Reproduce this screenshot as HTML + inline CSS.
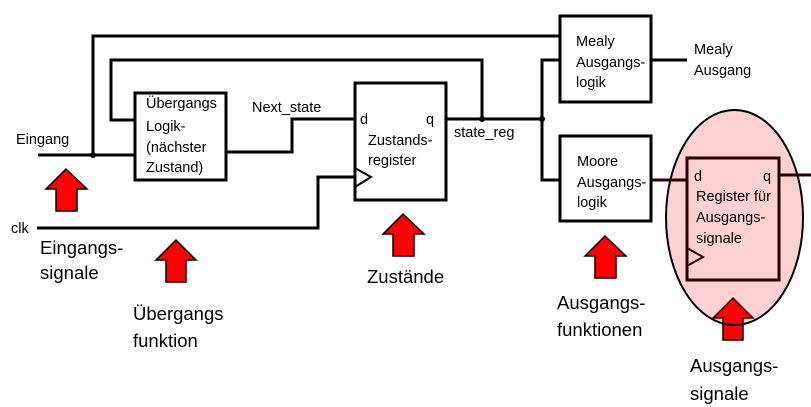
<!DOCTYPE html>
<html><head><meta charset="utf-8"><style>
html,body{margin:0;padding:0;background:#fff;}
svg{display:block;}
text{font-family:"Liberation Sans",Arial,sans-serif;fill:#000;}
.s{font-size:14.5px;}
.b{font-size:18.5px;}
</style></head><body>
<svg width="811" height="407" viewBox="0 0 811 407" xmlns="http://www.w3.org/2000/svg">
<g fill="none" stroke="#000" stroke-width="3">
<polyline points="93,155 93,36 560,36"/>
<polyline points="135,120 111,120 111,60 482,60 482,119"/>
<line x1="38" y1="155" x2="135" y2="155"/>
<rect x="135" y="93" width="91" height="87"/>
<polyline points="226,152 292,152 292,119 355,119"/>
<rect x="355" y="83" width="91" height="117"/>
<polyline points="355,168 371,177 355,187" stroke-width="2"/>
<polyline points="37,228 318,228 318,177 355,177"/>
<line x1="446" y1="119" x2="542" y2="119"/>
<polyline points="560,60 542,60 542,180 560,180"/>
<rect x="560" y="16" width="91" height="86"/>
<line x1="651" y1="60" x2="687" y2="60"/>
<rect x="560" y="136" width="91" height="85"/>
</g>
<circle cx="93" cy="155" r="3"/>
<circle cx="482" cy="119" r="3"/>
<circle cx="542" cy="119" r="3"/>
<g fill="#f00" stroke="#000" stroke-width="1.5">
<path d="M46,189 L66,169 L87,189 L77,189 L77,211 L56,211 L56,189 Z"/>
<path d="M156,260 L176,240 L196,260 L186,260 L186,282 L166,282 L166,260 Z"/>
<path d="M383,234 L403,214 L424,234 L414,234 L414,256 L393,256 L393,234 Z"/>
<path d="M585,256 L605,236 L626,256 L616,256 L616,278 L595,278 L595,256 Z"/>
<path d="M713,318 L733,298 L753,318 L743,318 L743,340 L723,340 L723,318 Z"/>
</g>
<ellipse cx="734.5" cy="217.5" rx="68.5" ry="107.5" fill="#f00" fill-opacity="0.18" stroke="#000" stroke-width="2"/>
<g fill="none" stroke="#2a0000" stroke-width="3">
<line x1="651" y1="180" x2="687" y2="180"/>
<rect x="687" y="158" width="92" height="122"/>
<polyline points="687,248 703,257 687,266" stroke-width="2"/>
<line x1="779" y1="175" x2="811" y2="175"/>
</g>
<text class="s" x="16" y="144">Eingang</text>
<text class="s" x="11" y="233">clk</text>
<text class="s" x="146" y="108">Übergangs</text>
<text class="s" x="146" y="131">Logik-</text>
<text class="s" x="146" y="152">(nächster</text>
<text class="s" x="146" y="172">Zustand)</text>
<text class="s" x="252" y="112">Next_state</text>
<text class="s" x="360" y="124">d</text>
<text class="s" x="426" y="124">q</text>
<text class="s" x="368" y="145">Zustands-</text>
<text class="s" x="368" y="165">register</text>
<text class="s" x="454" y="137">state_reg</text>
<text class="s" x="576" y="46">Mealy</text>
<text class="s" x="576" y="67">Ausgangs-</text>
<text class="s" x="576" y="87">logik</text>
<text class="s" x="694" y="54">Mealy</text>
<text class="s" x="694" y="75">Ausgang</text>
<text class="s" x="577" y="166">Moore</text>
<text class="s" x="577" y="187">Ausgangs-</text>
<text class="s" x="577" y="207">logik</text>
<text class="s" x="694" y="181">d</text>
<text class="s" x="763" y="181">q</text>
<text class="s" x="696" y="201">Register für</text>
<text class="s" x="696" y="222">Ausgangs-</text>
<text class="s" x="696" y="243">signale</text>
<text class="b" x="40" y="254">Eingangs-</text>
<text class="b" x="40" y="279">signale</text>
<text class="b" x="133" y="320">Übergangs</text>
<text class="b" x="133" y="347">funktion</text>
<text class="b" x="367" y="283">Zustände</text>
<text class="b" x="557" y="309">Ausgangs-</text>
<text class="b" x="557" y="336">funktionen</text>
<text class="b" x="690" y="372">Ausgangs-</text>
<text class="b" x="690" y="400">signale</text>
</svg>
</body></html>
